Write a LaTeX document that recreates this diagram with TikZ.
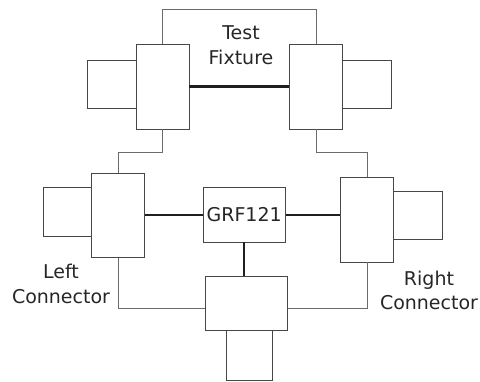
\documentclass[tikz,border=0pt]{standalone}
\usepackage{fontspec}
\setmainfont{DejaVu Sans}
\usetikzlibrary{calc}
\begin{document}
\begin{tikzpicture}[x=1pt,y=-1pt,
  box/.style={draw=black!72, line width=0.9pt, fill=white, inner sep=0pt, minimum width=#1},
  thin/.style={draw=black!58, line width=1pt},
  thick/.style={draw=black!88, line width=2.4pt},
  lbl/.style={font=\fontsize{19}{24.5}\selectfont, align=center, text=black!85, inner sep=0pt}]
\useasboundingbox (0,0) rectangle (480,382);
% top fixture
\node[box=53pt, minimum height=85pt] (TL) at (162.5,86.5) {};
\node[box=48.5pt, minimum height=48pt] (TLs) at (111.75,84) {};
\node[box=53pt, minimum height=85pt] (TR) at (316,86.5) {};
\node[box=49pt, minimum height=48pt] (TRs) at (367,84) {};
% middle connectors
\node[box=53pt, minimum height=84.3pt] (LM) at (118.2,215.2) {};
\node[box=48.4pt, minimum height=49pt] (LMs) at (67.5,212.2) {};
\node[box=52.6pt, minimum height=84.7pt] (RM) at (367,219.7) {};
\node[box=48.7pt, minimum height=48pt] (RMs) at (417.7,215.7) {};
% GRF121
\node[box=81.7pt, minimum height=54.3pt, lbl] (GRF) at (244.2,214.9) {GRF121};
% bottom
\node[box=81.7pt, minimum height=54.7pt] (BOT) at (246.2,303.4) {};
\node[box=46.7pt, minimum height=49.6pt] (BOTs) at (249.3,355.5) {};
% labels
\node[lbl] (tf) at (241,45) {Test\\Fixture};
\node[lbl] (lc) at (61,284) {Left\\Connector};
\node[lbl] (rc) at (429,290.5) {Right\\Connector};
% connectors
\draw[thin] (TL.north) -- ++(0,-34) coordinate (k1) -| (TR.north);
\draw[thin] (TL.south) -- ++(0,23) coordinate (k2) -| (LM.north);
\draw[thin] (TR.south) -- ++(0,23.5) coordinate (k3) -| (RM.north);
\draw[thin] (LM.south) |- ($(BOT.west)+(0,5.3)$) coordinate (k4);
\draw[thin] (RM.south) |- ($(BOT.east)+(0,5.3)$) coordinate (k5);
\draw[thick] (TL.east) -- (TR.west);
\draw[thick] (LM.east) -- (LM.east -| GRF.west);
\draw[thick] (GRF.east) -- (GRF.east -| RM.west);
\draw[thick] (GRF.south) -- (GRF.south |- BOT.north);
\end{tikzpicture}
\end{document}
